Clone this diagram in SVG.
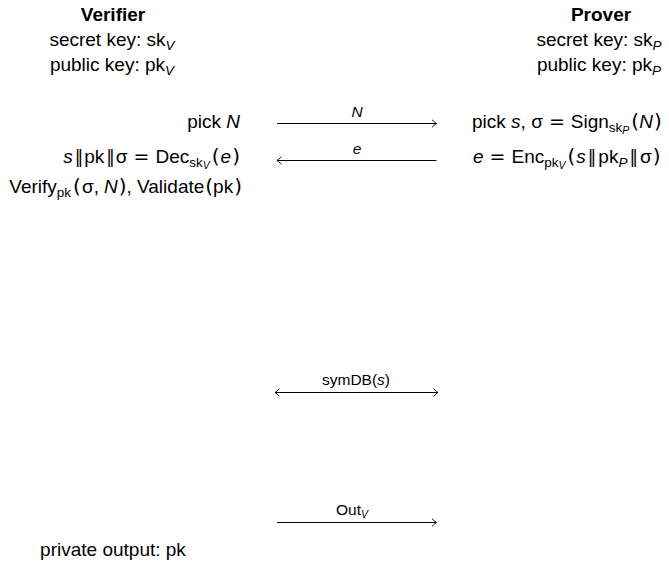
<svg xmlns="http://www.w3.org/2000/svg" width="669" height="562" viewBox="0 0 669 562">
<style>
text{font-family:"Liberation Sans","Helvetica",Arial,sans-serif;font-size:19px;fill:#000}
.b{font-weight:bold}
.i{font-style:italic}
.lbl{font-size:15.5px}
.s1{font-size:13.5px}
.s2{font-size:10.5px;font-style:italic}
.bar{font-family:"DejaVu Sans",sans-serif;font-size:17px}
.eq{font-family:"DejaVu Sans",sans-serif;font-size:19px}
.par{font-family:"DejaVu Sans",sans-serif;font-size:20px}
.arr{stroke:#000;stroke-width:1;fill:none}
</style>
<defs>
<marker id="ah" viewBox="-6 -5 7 10" markerWidth="7" markerHeight="10" refX="0" refY="0" orient="auto-start-reverse" markerUnits="userSpaceOnUse">
<path d="M-4.5,-3.8 Q-1.5,-0.8 0,0 Q-1.5,0.8 -4.5,3.8" stroke="#000" stroke-width="0.9" fill="none"/>
</marker>
</defs>

<g id="verifier">
<text class="b" x="113" y="21" text-anchor="middle">Verifier</text>
<text x="112" y="46" text-anchor="middle">secret key: sk<tspan class="s1 i" dy="4">V</tspan></text>
<text x="112" y="71" text-anchor="middle">public key: pk<tspan class="s1 i" dy="4">V</tspan></text>
</g>

<g id="prover">
<text class="b" x="601" y="21" text-anchor="middle">Prover</text>
<text x="599" y="46" text-anchor="middle">secret key: sk<tspan class="s1 i" dy="4">P</tspan></text>
<text x="599" y="71" text-anchor="middle">public key: pk<tspan class="s1 i" dy="4">P</tspan></text>
</g>

<g id="verifier-steps">
<text x="240" y="128" text-anchor="end">pick <tspan class="i">N</tspan></text>
<text x="240" y="163" text-anchor="end"><tspan class="i">s</tspan><tspan class="bar" dx="2">‖</tspan><tspan dx="1">pk</tspan><tspan class="bar" dx="2">‖</tspan><tspan dx="1">σ</tspan><tspan class="eq" dx="6">=</tspan><tspan dx="6">Dec</tspan><tspan class="s1" dy="4">sk</tspan><tspan class="s2" dy="2">V</tspan><tspan class="par" dy="-6" dx="2">(</tspan><tspan class="i" dx="1">e</tspan><tspan class="par" dx="1">)</tspan></text>
<text x="242" y="193" text-anchor="end">Verify<tspan class="s1" dy="4">pk</tspan><tspan class="par" dy="-4" dx="2">(</tspan><tspan dx="1">σ,</tspan><tspan class="i" dx="5">N</tspan><tspan class="par" dx="1">)</tspan>, Validate<tspan class="par" dx="1">(</tspan>pk<tspan class="par" dx="1">)</tspan></text>
</g>

<g id="prover-steps">
<text x="472" y="128">pick <tspan class="i">s</tspan>, σ<tspan class="eq" dx="6">=</tspan><tspan dx="6">Sign</tspan><tspan class="s1" dy="4">sk</tspan><tspan class="s2" dy="2">P</tspan><tspan class="par" dy="-6" dx="2">(</tspan><tspan class="i">N</tspan><tspan class="par" dx="1">)</tspan></text>
<text x="473" y="163"><tspan class="i">e</tspan><tspan class="eq" dx="6">=</tspan><tspan dx="6">Enc</tspan><tspan class="s1" dy="4">pk</tspan><tspan class="s2" dy="2">V</tspan><tspan class="par" dy="-6" dx="2">(</tspan><tspan class="i" dx="1">s</tspan><tspan class="bar" dx="2">‖</tspan><tspan dx="2">pk</tspan><tspan class="s1 i" dy="4">P</tspan><tspan class="bar" dy="-4" dx="2">‖</tspan><tspan dx="2">σ</tspan><tspan class="par" dx="1">)</tspan></text>
</g>

<g id="output">
<text x="113" y="556" text-anchor="middle">private output: pk</text>
</g>

<g id="connectors">
<line class="arr" x1="277" y1="123.5" x2="436.5" y2="123.5" marker-end="url(#ah)"/>
<text class="lbl i" x="357" y="117" text-anchor="middle">N</text>
<line class="arr" x1="436.5" y1="160.5" x2="277" y2="160.5" marker-end="url(#ah)"/>
<text class="lbl i" x="357" y="154" text-anchor="middle">e</text>
<line class="arr" x1="275" y1="392.5" x2="438" y2="392.5" marker-start="url(#ah)" marker-end="url(#ah)"/>
<text class="lbl" x="356" y="385" text-anchor="middle">symDB(<tspan class="i">s</tspan>)</text>
<line class="arr" x1="277" y1="522.5" x2="436.5" y2="522.5" marker-end="url(#ah)"/>
<text class="lbl" x="352" y="515" text-anchor="middle">Out<tspan class="s2" font-size="12" dy="3">V</tspan></text>
</g>
</svg>
